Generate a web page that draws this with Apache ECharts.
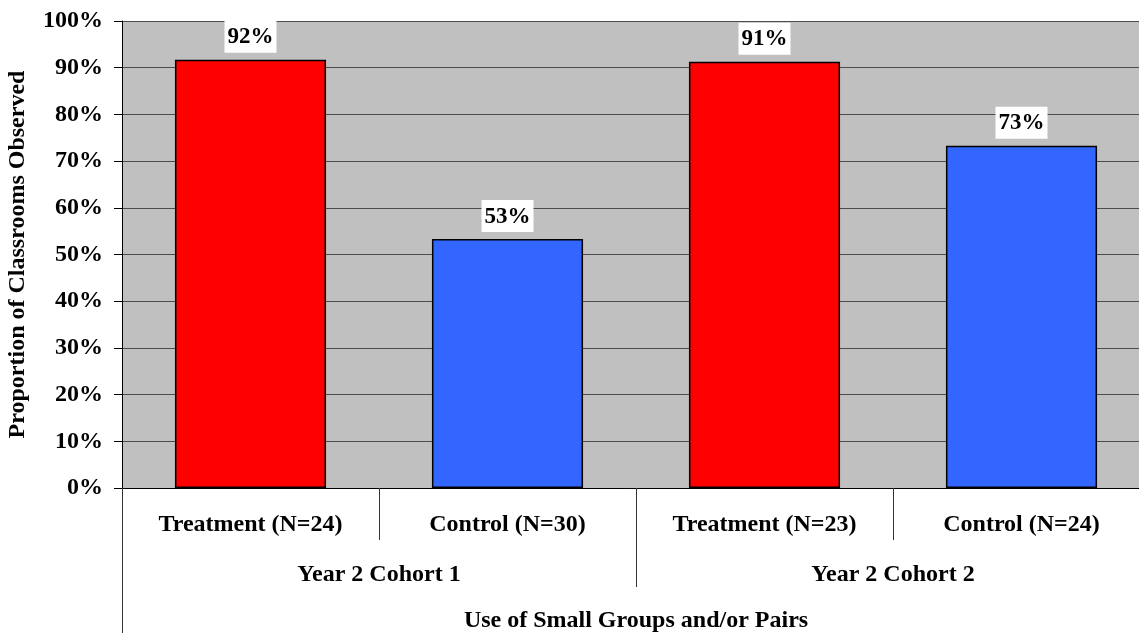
<!DOCTYPE html>
<html>
<head>
<meta charset="utf-8">
<script src="https://cdn.jsdelivr.net/npm/echarts@6/dist/echarts.min.js"></script>
<style>
  html, body { margin: 0; padding: 0; background: #ffffff; }
  #chart { width: 1139px; height: 633px; }
</style>
</head>
<body>
<div id="chart"></div>
<script>
const categories = ['Treatment (N=24)', 'Control (N=30)', 'Treatment (N=23)', 'Control (N=24)'];
const groups = ['Year 2 Cohort 1', 'Year 2 Cohort 2'];
const axisTitle = ['Use of Small Groups and/or Pairs'];
const values = [91.7, 53.3, 91.3, 73.3];
const yTitle = 'Proportion of Classrooms Observed';

const FONT = '"Times New Roman", "Liberation Serif", serif';
const RED = '#FF0000';
const BLUE = '#3366FF';

const chart = echarts.init(document.getElementById('chart'), null, { renderer: 'canvas' });

const tickStyle = { color: '#333333', width: 1 };
const hiddenLine = { show: true, onZero: false, lineStyle: { color: 'rgba(0,0,0,0)', width: 0 } };

chart.setOption({
  animation: false,
  backgroundColor: '#ffffff',
  grid: {
    left: 122, right: -11, top: 21, bottom: 145,
    containLabel: false, outerBoundsMode: 'none',
    show: true, backgroundColor: '#C0C0C0', borderWidth: 0
  },
  yAxis: {
    type: 'value', min: 0, max: 100, interval: 10,
    name: yTitle, nameLocation: 'middle', nameGap: 92,
    nameTextStyle: { fontFamily: FONT, fontWeight: 'bold', fontSize: 24, color: '#000' },
    axisLine: { show: true, lineStyle: { color: '#000', width: 1 } },
    axisTick: { show: true, length: 8, lineStyle: { color: '#000', width: 1 } },
    axisLabel: { formatter: '{value}%', margin: 19, fontFamily: FONT, fontWeight: 'bold', fontSize: 24, color: '#000' },
    splitLine: { show: true, lineStyle: { color: '#4d4d4d', width: 1 } }
  },
  xAxis: [
    {
      type: 'category', data: categories, position: 'bottom', gridIndex: 0,
      axisLine: { show: true, onZero: false, lineStyle: { color: '#000', width: 1 } },
      axisTick: { show: true, length: 52, interval: 0, lineStyle: tickStyle },
      axisLabel: { interval: 0, margin: 25, fontFamily: FONT, fontWeight: 'bold', fontSize: 24, color: '#000' },
      splitLine: { show: false }
    },
    {
      type: 'category', data: groups, position: 'bottom', offset: 52, gridIndex: 0,
      axisLine: hiddenLine,
      axisTick: { show: true, length: 47, interval: 0, lineStyle: tickStyle },
      axisLabel: { interval: 0, margin: 23, fontFamily: FONT, fontWeight: 'bold', fontSize: 24, color: '#000' },
      splitLine: { show: false }
    },
    {
      type: 'category', data: axisTitle, position: 'bottom', offset: 99, gridIndex: 0,
      axisLine: hiddenLine,
      axisTick: { show: true, length: 46, interval: 0, lineStyle: tickStyle },
      axisLabel: { interval: 0, margin: 22, fontFamily: FONT, fontWeight: 'bold', fontSize: 24, color: '#000' },
      splitLine: { show: false }
    }
  ],
  series: [{
    type: 'bar',
    xAxisIndex: 0,
    barWidth: '58.8%',
    data: values.map((v, i) => ({
      value: v,
      itemStyle: { color: i % 2 === 0 ? RED : BLUE, borderColor: '#000', borderWidth: 1.5 }
    })),
    label: {
      show: true, position: 'top', distance: 7,
      formatter: p => Math.round(p.value) + '%',
      fontFamily: FONT, fontWeight: 'bold', fontSize: 23, color: '#000',
      backgroundColor: '#ffffff', padding: [5, 3, 4, 3]
    }
  }]
});
</script>
</body>
</html>
